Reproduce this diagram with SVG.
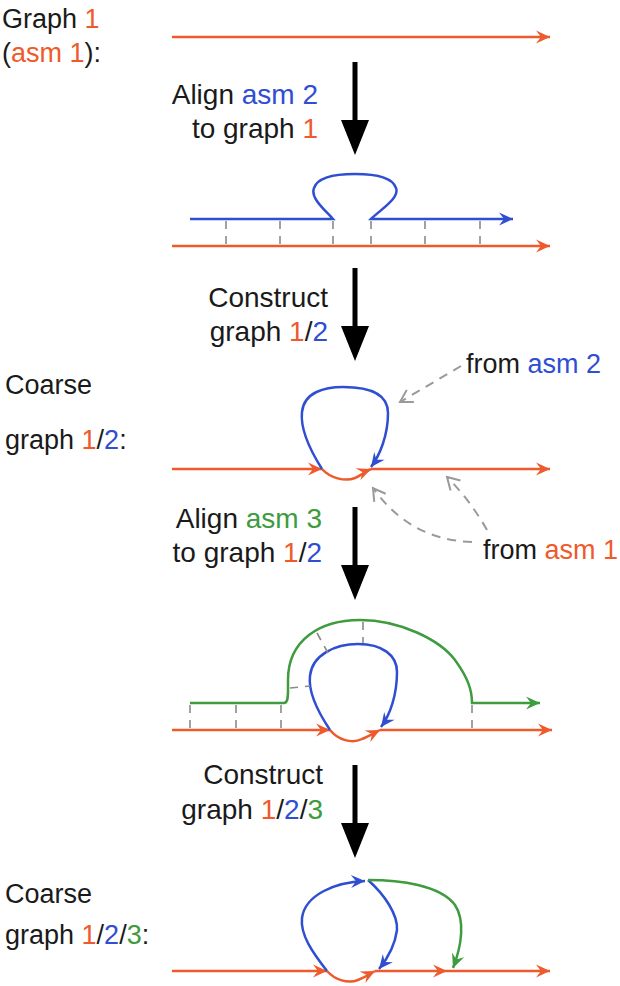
<svg xmlns="http://www.w3.org/2000/svg" width="620" height="986" viewBox="0 0 620 986">
  <style>
    text { font-family: "Liberation Sans", Arial, sans-serif; font-size: 27px; fill: #1a1a1a; }
    .end { text-anchor: end; font-size: 28px; }
    .o { fill: #EE5A2C; }
    .b { fill: #2F4ED2; }
    .g { fill: #3E9B3E; }
    .orange { fill: none; stroke: #EE5A2C; stroke-width: 2.5; marker-end: url(#hOrange); }
    .blueA { fill: none; stroke: #2F4ED2; stroke-width: 2.5; marker-end: url(#hBlue); }
    .greenA { fill: none; stroke: #3E9B3E; stroke-width: 2.5; marker-end: url(#hGreen); }
    .tick { fill: none; stroke: #8a8a8a; stroke-width: 1.6; stroke-dasharray: 8 7; }
    .pointer { fill: none; stroke: #9a9a9a; stroke-width: 2; stroke-dasharray: 9 7; marker-end: url(#hGray); }
    .step { fill: #000; }
  </style>
  <defs>
    <marker id="hOrange" markerUnits="userSpaceOnUse" viewBox="-15 -8 17 16" markerWidth="17" markerHeight="16" refX="0" refY="0" orient="auto">
      <path d="M0,0 L-14,-6.5 L-9,0 L-14,6.5 Z" fill="#EE5A2C"/>
    </marker>
    <marker id="hBlue" markerUnits="userSpaceOnUse" viewBox="-15 -8 17 16" markerWidth="17" markerHeight="16" refX="0" refY="0" orient="auto">
      <path d="M0,0 L-14,-6.5 L-9,0 L-14,6.5 Z" fill="#2F4ED2"/>
    </marker>
    <marker id="hGreen" markerUnits="userSpaceOnUse" viewBox="-15 -8 17 16" markerWidth="17" markerHeight="16" refX="0" refY="0" orient="auto">
      <path d="M0,0 L-14,-6.5 L-9,0 L-14,6.5 Z" fill="#3E9B3E"/>
    </marker>
    <marker id="hGray" markerUnits="userSpaceOnUse" viewBox="-14 -9 16 18" markerWidth="16" markerHeight="18" refX="0" refY="0" orient="auto">
      <path d="M-12,-7 L0,0 L-12,7" fill="none" stroke="#9a9a9a" stroke-width="2"/>
    </marker>
    <path id="bigArrow" d="M-2.5,0 H2.5 V58 H14 L0,93 L-14,58 H-2.5 Z"/>
  </defs>

  <!-- Stage 1: graph 1 -->
  <g id="stage1">
    <text x="2" y="28">Graph <tspan class="o">1</tspan></text>
    <text x="2" y="62">(<tspan class="o">asm 1</tspan>):</text>
    <path class="orange" d="M172,37 H550"/>
  </g>

  <!-- Step arrows between stages -->
  <g id="step1">
    <use href="#bigArrow" class="step" x="355" y="62"/>
    <text class="end" x="318" y="104">Align <tspan class="b">asm 2</tspan></text>
    <text class="end" x="318" y="138">to graph <tspan class="o">1</tspan></text>
  </g>

  <!-- Stage 2: asm 2 aligned onto graph 1 -->
  <g id="stage2">
    <path class="blueA" d="M190,219 H333 C325,210 310,198 314,188 C318,176 338,174 355,174 C372,174 392,176 396,188 C400,198 380,210 371,219 H513"/>
    <path class="orange" d="M172,246 H550"/>
    <g id="stage2-ticks">
      <path class="tick" d="M226,221 V244 M280,221 V244 M333,221 V244 M371,221 V244 M425,221 V244 M480,221 V244"/>
    </g>
  </g>

  <g id="step2">
    <use href="#bigArrow" class="step" x="355" y="268"/>
    <text class="end" x="328" y="307">Construct</text>
    <text class="end" x="328" y="341">graph <tspan class="o">1</tspan>/<tspan class="b">2</tspan></text>
  </g>

  <!-- Stage 3: coarse graph 1/2 -->
  <g id="stage3">
    <text x="5" y="394">Coarse</text>
    <text x="5" y="449">graph <tspan class="o">1</tspan>/<tspan class="b">2</tspan>:</text>
    <path class="orange" d="M172,469 H322"/>
    <path class="orange" d="M322,469 C330,478 345,482 355,478 C362,475 366,471 371,469"/>
    <path class="orange" d="M371,469 H550"/>
    <path class="blueA" d="M322,469 C310,450 300,430 302,412 C304,392 325,387 343,387 C365,387 388,392 388,413 C388,435 380,455 371,467"/>
  </g>

  <!-- Source annotations -->
  <g id="note-asm2">
    <text x="466" y="373">from <tspan class="b">asm 2</tspan></text>
  </g>
  <g id="note-asm1">
    <text x="483" y="559">from <tspan class="o">asm 1</tspan></text>
  </g>

  <g id="step3">
    <use href="#bigArrow" class="step" x="355" y="507"/>
    <text class="end" x="322" y="528">Align <tspan class="g">asm 3</tspan></text>
    <text class="end" x="322" y="562">to graph <tspan class="o">1</tspan>/<tspan class="b">2</tspan></text>
  </g>

  <!-- Stage 4: asm 3 aligned onto graph 1/2 -->
  <g id="stage4">
    <path class="greenA" d="M190,703 H284 C287,703 288,700 288,690 V680 C288,640 320,620 360,620 C400,620 440,640 455,660 C468,678 472,690 472,703 H540"/>
    <path class="orange" d="M172,730 H330"/>
    <path class="orange" d="M330,730 C338,740 352,744 362,739 C370,736 376,732 380,730"/>
    <path class="orange" d="M380,730 H552"/>
    <path class="blueA" d="M330,730 C318,712 308,692 310,676 C312,655 335,644 358,644 C382,644 397,655 397,672 C397,695 390,715 381,727"/>
    <g id="stage4-ticks">
      <path class="tick" d="M190,705 V728 M236,705 V728 M281,705 V728 M472,705 V728"/>
      <path class="tick" d="M363,622 V643 M317,633 L328,653 M290,688 L310,686"/>
    </g>
  </g>

  <g id="step4">
    <use href="#bigArrow" class="step" x="355" y="765"/>
    <text class="end" x="323" y="784">Construct</text>
    <text class="end" x="323" y="819">graph <tspan class="o">1</tspan>/<tspan class="b">2</tspan>/<tspan class="g">3</tspan></text>
  </g>

  <!-- Stage 5: coarse graph 1/2/3 -->
  <g id="stage5">
    <text x="5" y="903">Coarse</text>
    <text x="5" y="944">graph <tspan class="o">1</tspan>/<tspan class="b">2</tspan>/<tspan class="g">3</tspan>:</text>
    <path class="orange" d="M172,971 H327"/>
    <path class="orange" d="M327,971 C335,980 348,984 358,980 C366,977 371,973 375,971"/>
    <path class="orange" d="M375,971 H447"/>
    <path class="orange" d="M447,971 H550"/>
    <path class="blueA" d="M327,971 C313,953 300,935 302,918 C305,895 335,882 365,881"/>
    <path class="blueA" d="M368,880 C385,895 398,915 397,930 C395,945 388,958 379,969"/>
    <path class="greenA" d="M368,880 C400,880 440,885 455,905 C465,920 462,945 453,968"/>
  </g>

  <!-- Dashed pointers from the annotations -->
  <g id="connectors">
    <path class="pointer" d="M461,366 L400,402"/>
    <path class="pointer" d="M472,542 Q410,540 373,488"/>
    <path class="pointer" d="M487,530 Q470,500 447,477"/>
  </g>
</svg>
